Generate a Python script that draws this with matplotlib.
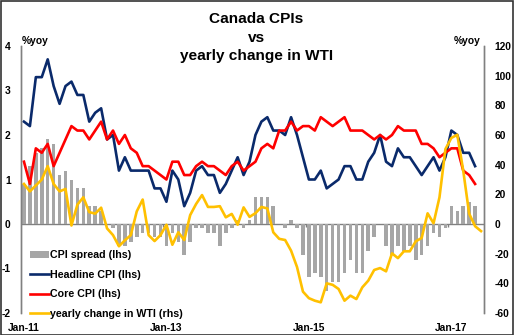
import matplotlib
matplotlib.use("Agg")
import matplotlib.pyplot as plt
from matplotlib.patches import Patch, Rectangle
from matplotlib.lines import Line2D

plt.rcParams['font.family'] = ['Liberation Sans', 'DejaVu Sans']

# ---- data (monthly, Jan-11 .. Jun-17) ----
months = [f"{m}-{y:02d}" for y in range(11, 18) for m in
          ["Jan", "Feb", "Mar", "Apr", "May", "Jun", "Jul", "Aug", "Sep", "Oct", "Nov", "Dec"]][:78]

headline_cpi = [2.3, 2.2, 3.3, 3.3, 3.7, 3.1, 2.7, 3.1, 3.2, 2.9, 2.9, 2.3,
                2.5, 2.6, 1.9, 2.0, 1.2, 1.5, 1.2, 1.2, 1.2, 1.2, 0.8, 0.8,
                0.5, 1.2, 1.0, 0.4, 0.7, 1.2, 1.3, 1.1, 1.1, 0.7, 0.9, 1.2,
                1.5, 1.1, 1.4, 2.0, 2.3, 2.4, 2.1, 2.1, 2.0, 2.4, 2.0, 1.5,
                1.0, 1.0, 1.2, 0.8, 0.9, 1.0, 1.3, 1.3, 1.0, 1.0, 1.4, 1.6,
                2.0, 1.4, 1.3, 1.7, 1.5, 1.5, 1.3, 1.1, 1.3, 1.5, 1.2, 1.5,
                2.1, 2.0, 1.6, 1.6, 1.3]

core_cpi = [1.4, 0.9, 1.7, 1.6, 1.8, 1.3, 1.6, 1.9, 2.2, 2.1, 2.1, 1.9,
            2.1, 2.3, 1.9, 2.1, 1.8, 2.0, 1.7, 1.6, 1.3, 1.3, 1.2, 1.1,
            1.0, 1.4, 1.4, 1.1, 1.1, 1.3, 1.4, 1.3, 1.3, 1.2, 1.1, 1.3,
            1.4, 1.2, 1.3, 1.4, 1.7, 1.8, 1.7, 2.1, 2.1, 2.3, 2.1, 2.2,
            2.2, 2.1, 2.4, 2.3, 2.2, 2.3, 2.4, 2.1, 2.1, 2.1, 2.0, 1.9,
            2.0, 1.9, 2.0, 2.2, 2.1, 2.1, 2.1, 1.8, 1.8, 1.7, 1.5, 1.6,
            1.7, 1.7, 1.2, 1.1, 0.9]

cpi_spread = [0.9, 1.3, 1.6, 1.7, 1.9, 1.8, 1.1, 1.2, 1.0, 0.8, 0.8, 0.4,
              0.4, 0.3, 0.0, -0.1, -0.5, -0.5, -0.4, -0.3, -0.2, -0.2, -0.3, -0.3,
              -0.5, -0.2, -0.4, -0.7, -0.4, -0.1, -0.1, -0.2, -0.2, -0.5, -0.2, -0.1,
              0.1, -0.1, 0.1, 0.6, 0.6, 0.6, 0.4, 0.0, -0.1, 0.1, -0.1, -0.7,
              -1.2, -1.1, -1.2, -1.5, -1.3, -1.3, -1.1, -0.8, -1.1, -1.1, -0.6, -0.3,
              0.0, -0.5, -0.7, -0.5, -0.6, -0.5, -0.8, -0.7, -0.5, -0.2, -0.3, -0.1,
              0.4, 0.3, 0.4, 0.5, 0.4]

wti_yoy = [27, 22, 26, 30, 39, 27, 22, 23.6, -1, 13, 18, 8,
           7, 11, -3, -7.5, -15, -11, -7.5, 8.5, 16.5, -7.5, -11.5, -7.5,
           -0.5, -14, -5.6, -10.8, 6, 13.5, 19.5, 11.5, 11.5, 12, 4.5, 6.8,
           -0.5, 11.2, 4.8, 7.3, 11.5, 10.5, -5.6, -10, -10.8, -18, -29, -45.6,
           -50, -51.7, -52.8, -40, -41, -43.8, -51.7, -48.3, -50.6, -42.7, -38.2, -31,
           -29.7, -31.9, -19.8, -23, -18.4, -18.4, -11.7, -9.4, 7.2, 0.5, 18, 50.5,
           58, 60.2, 36, 7, -1.5, -4.8]

tick_labels = ["Jan-11", "Jan-13", "Jan-15", "Jan-17"]
left_ticks = [-2, -1, 0, 1, 2, 3, 4]
right_ticks = [-60, -40, -20, 0, 20, 40, 60, 80, 100, 120]

# ---- styling ----
NAVY = "#0A2A6B"
RED = "#FF0000"
GOLD = "#FFC000"
BARGRAY = "#A6A6A6"
AXGRAY = "#808080"

W, H = 514, 335
fig = plt.figure(figsize=(W / 100, H / 100), dpi=100)
fig.patch.set_facecolor("white")
fig.patches.append(Rectangle((0.5 / W, 0.5 / H), 1 - 1.5 / W, 1 - 1.5 / H,
                             transform=fig.transFigure, fill=False,
                             edgecolor="#333333", linewidth=1.2))

ax = fig.add_axes([21 / W, 1 - 313 / H, 463 / W, 267 / H])
ax2 = ax.twinx()

x_cpi = list(range(len(headline_cpi)))
x_wti = list(range(len(wti_yoy)))

ax.bar(x_cpi, cpi_spread, width=0.6, color=BARGRAY, zorder=2)
ax.axhline(0, color=AXGRAY, linewidth=1.0, zorder=1)
ax.plot(x_cpi, headline_cpi, color=NAVY, linewidth=1.9, zorder=3)
ax.plot(x_cpi, core_cpi, color=RED, linewidth=1.9, zorder=3)
ax2.plot(x_wti, wti_yoy, color=GOLD, linewidth=1.9, zorder=4)

ax.set_xlim(-0.5, len(months) - 0.5)
ax.set_ylim(-2, 4)
ax2.set_ylim(-60, 120)

label_pos = [months.index(t) for t in tick_labels]
ax.set_xticks(label_pos)
ax.set_xticklabels(tick_labels, fontsize=7.4, fontweight="bold")
ax.tick_params(axis="x", length=0, pad=7)

ax.set_yticks(left_ticks)
ax.set_yticklabels([str(v) for v in left_ticks], fontsize=7.4, fontweight="bold")
ax.tick_params(axis="y", length=0, pad=7.5)
ax2.set_yticks(right_ticks)
ax2.set_yticklabels([str(v) for v in right_ticks], fontsize=7.4, fontweight="bold")
ax2.tick_params(axis="y", length=0, pad=7.5)

for a in (ax, ax2):
    for s in ("top", "bottom"):
        a.spines[s].set_visible(False)
    a.spines["left"].set_color(AXGRAY)
    a.spines["right"].set_color(AXGRAY)
    a.spines["left"].set_linewidth(1.0)
    a.spines["right"].set_linewidth(1.0)
ax.patch.set_visible(False)

# small tick marks on the zero line at category boundaries
sec = ax.secondary_xaxis(2 / 6)
sec.set_xticks([p - 0.5 for p in label_pos[1:]])
sec.set_xticklabels([])
sec.tick_params(axis="x", direction="out", length=2.5, width=1, color=AXGRAY)
sec.spines["bottom"].set_visible(False)

# titles and unit labels
fig.text(256 / W, 1 - 22.7 / H, "Canada CPIs", ha="center", va="baseline",
         fontsize=11.1, fontweight="bold")
fig.text(257 / W, 1 - 41.7 / H, "vs", ha="center", va="baseline",
         fontsize=11.1, fontweight="bold")
fig.text(256.5 / W, 1 - 60 / H, "yearly change in WTI", ha="center", va="baseline",
         fontsize=11.1, fontweight="bold")
fig.text(22 / W, 1 - 43.5 / H, "%yoy", ha="left", va="baseline", fontsize=7.4,
         fontweight="bold")
fig.text(454 / W, 1 - 43.5 / H, "%yoy", ha="left", va="baseline", fontsize=7.4,
         fontweight="bold")

handles = [Patch(facecolor=BARGRAY, edgecolor="none"),
           Line2D([], [], color=NAVY, linewidth=1.9),
           Line2D([], [], color=RED, linewidth=1.9),
           Line2D([], [], color=GOLD, linewidth=1.9)]
labels = ["CPI spread (lhs)", "Headline CPI (lhs)", "Core CPI (lhs)",
          "yearly change in WTI (rhs)"]
leg = ax2.legend(handles, labels, loc="upper left",
                 bbox_to_anchor=(30 / W, 1 - 250.5 / H), bbox_transform=fig.transFigure,
                 frameon=False, borderpad=0, borderaxespad=0,
                 handlelength=1.75, handleheight=0.55, handletextpad=0.15,
                 labelspacing=0.88, prop={"size": 7.7, "weight": "bold"})

fig.savefig("out.png", dpi=100, facecolor="white")
